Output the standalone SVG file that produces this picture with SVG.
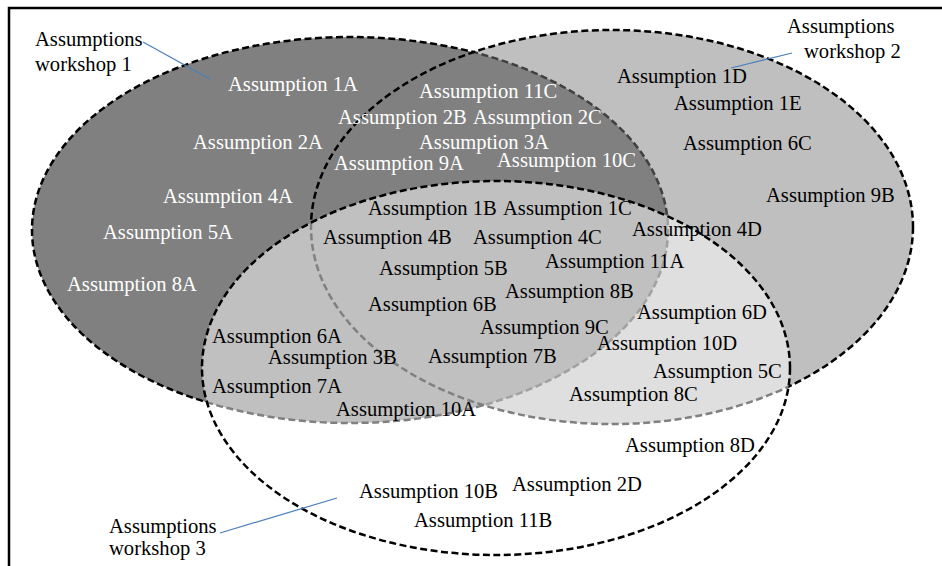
<svg xmlns="http://www.w3.org/2000/svg" width="942" height="566" viewBox="0 0 942 566">
<style>
.e{stroke:#000;stroke-width:2.5;stroke-dasharray:7 3.5}
.t{font-family:"Liberation Serif","Times New Roman",serif;font-size:20.6px;white-space:pre}
.w{fill:#fff}
.k{fill:#000}
.c{stroke:#4a7ebb;stroke-width:1.2;fill:none}
</style>
<rect width="942" height="566" fill="#fff"/>
<g id="workshop1"><ellipse class="e" cx="350" cy="230" rx="318" ry="193" fill="#808080"/></g>
<g id="workshop2"><ellipse class="e" cx="612" cy="227" rx="301" ry="197" fill="#808080" fill-opacity="0.5"/></g>
<g id="workshop3"><ellipse class="e" cx="496" cy="368" rx="294" ry="187" fill="#fff" fill-opacity="0.5"/></g>
<path d="M9,566 V8 H942" fill="none" stroke="#000" stroke-width="2.5"/>
<g id="connectors">
<line class="c" x1="143" y1="42" x2="210" y2="79"/>
<line class="c" x1="792" y1="53" x2="731" y2="68"/>
<line class="c" x1="220" y1="533" x2="337" y2="498"/>
</g>
<g id="labels" class="t k" font-family="Liberation Serif, serif">
<text x="35" y="46">Assumptions</text>
<text x="35" y="71">workshop 1</text>
<text x="787" y="33">Assumptions</text>
<text x="804" y="58">workshop 2</text>
<text x="109" y="533">Assumptions</text>
<text x="109" y="555">workshop 3</text>
</g>
<g id="assumptions-1" class="t w" font-family="Liberation Serif, serif">
<text x="228" y="91">Assumption  1A</text>
<text x="193" y="149">Assumption 2A</text>
<text x="419" y="98">Assumption 11C</text>
<text x="338" y="124">Assumption 2B</text>
<text x="473" y="124">Assumption 2C</text>
<text x="419" y="149">Assumption 3A</text>
<text x="334" y="170">Assumption 9A</text>
<text x="497" y="167">Assumption 10C</text>
<text x="163" y="203">Assumption 4A</text>
<text x="103" y="239">Assumption 5A</text>
<text x="67" y="291">Assumption 8A</text>
</g>
<g id="assumptions-2" class="t k" font-family="Liberation Serif, serif">
<text x="617" y="83">Assumption 1D</text>
<text x="674" y="110">Assumption 1E</text>
<text x="683" y="150">Assumption 6C</text>
<text x="766" y="202">Assumption 9B</text>
<text x="368" y="215">Assumption 1B</text>
<text x="503" y="215">Assumption 1C</text>
<text x="323" y="244">Assumption 4B</text>
<text x="473" y="244">Assumption 4C</text>
<text x="632" y="236">Assumption 4D</text>
<text x="379" y="275">Assumption 5B</text>
<text x="545" y="268">Assumption 11A</text>
<text x="505" y="298">Assumption 8B</text>
<text x="368" y="311">Assumption 6B</text>
<text x="480" y="334">Assumption 9C</text>
<text x="637" y="319">Assumption 6D</text>
<text x="212" y="343">Assumption 6A</text>
<text x="268" y="364">Assumption 3B</text>
<text x="428" y="363">Assumption 7B</text>
<text x="597" y="350">Assumption 10D</text>
<text x="653" y="378">Assumption 5C</text>
<text x="212" y="393">Assumption 7A</text>
<text x="569" y="401">Assumption 8C</text>
<text x="336" y="416">Assumption 10A</text>
<text x="625" y="452">Assumption 8D</text>
<text x="512" y="491">Assumption 2D</text>
<text x="359" y="498">Assumption 10B</text>
<text x="414" y="527">Assumption 11B</text>
</g>
</svg>
